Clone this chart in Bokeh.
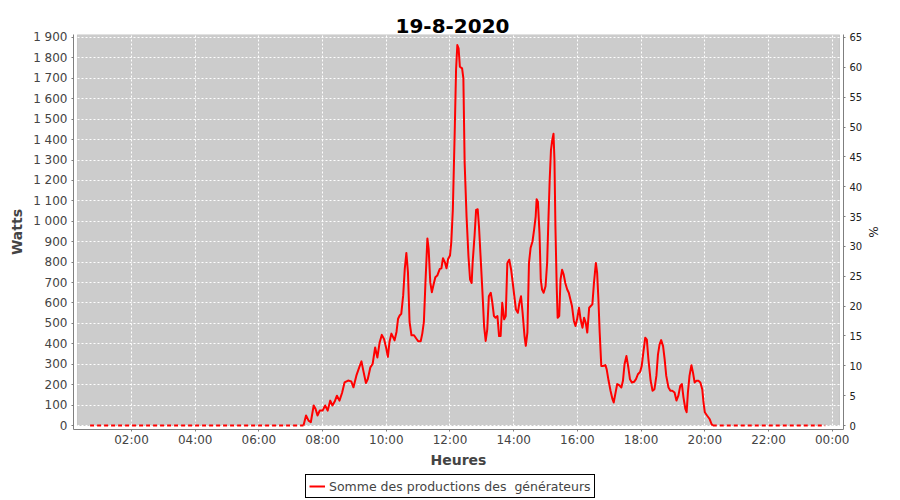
from bokeh.plotting import figure
from bokeh.layouts import column
from bokeh.models import (Range1d, LinearAxis, FixedTicker, Legend, LegendItem,
                          BoxAnnotation, ColumnDataSource)
from bokeh.embed import file_html
from bokeh.resources import INLINE

# ---------------- data ----------------
title_text = "19-8-2020"
x_label = "Heures"
y_label = "Watts"
y2_label = "%"
series_name = "Somme des productions des  générateurs"

x_tick_hours = [2, 4, 6, 8, 10, 12, 14, 16, 18, 20, 22, 24]
x_tick_labels = ["02:00", "04:00", "06:00", "08:00", "10:00", "12:00",
                 "14:00", "16:00", "18:00", "20:00", "22:00", "00:00"]
w_ticks = [0, 100, 200, 300, 400, 500, 600, 700, 800, 900, 1000, 1100,
           1200, 1300, 1400, 1500, 1600, 1700, 1800, 1900]
w_tick_labels = ["0", "100", "200", "300", "400", "500", "600", "700", "800",
                 "900", "1 000", "1 100", "1 200", "1 300", "1 400", "1 500",
                 "1 600", "1 700", "1 800", "1 900"]
pct_ticks = [0, 5, 10, 15, 20, 25, 30, 35, 40, 45, 50, 55, 60, 65]

# night (no production) segments, hours of day
night_hours = [0.70, 7.40]
night_watts = [0, 0]
evening_hours = [20.25, 23.78]
evening_watts = [0, 0]

# production during the day (hours of day, watts)
day_hours = [
    7.40, 7.48, 7.56, 7.63, 7.72, 7.78, 7.84, 7.91, 8.00, 8.08, 8.16, 8.24,
    8.31, 8.38, 8.45, 8.53, 8.61, 8.69, 8.80, 8.90, 8.97, 9.06, 9.15, 9.22,
    9.29, 9.36, 9.42, 9.50, 9.57, 9.65, 9.72, 9.79, 9.86, 9.93,
    10.00, 10.05, 10.10, 10.16, 10.21, 10.26, 10.32, 10.37, 10.42, 10.47,
    10.53, 10.58, 10.63, 10.68, 10.73, 10.79, 10.87, 10.94, 11.00, 11.08,
    11.13, 11.18, 11.23, 11.29, 11.33, 11.38, 11.43, 11.49, 11.54, 11.60,
    11.68, 11.73, 11.78, 11.84, 11.89, 11.94, 12.00, 12.04, 12.09, 12.15,
    12.19, 12.23, 12.27, 12.31, 12.38, 12.42, 12.46,
    12.52, 12.58, 12.63, 12.68, 12.71, 12.77, 12.82, 12.87, 12.91, 12.96,
    13.02, 13.07, 13.12, 13.17, 13.22, 13.28, 13.33, 13.38, 13.43, 13.49,
    13.54, 13.59, 13.64, 13.70, 13.75, 13.80, 13.86, 13.92, 13.97, 14.02,
    14.07, 14.13, 14.18, 14.23, 14.28, 14.34, 14.38, 14.43, 14.48, 14.53,
    14.59, 14.64, 14.69, 14.72,
    14.76, 14.81, 14.85, 14.89, 14.94, 15.00, 15.05, 15.09, 15.13, 15.17,
    15.21, 15.25, 15.28, 15.31, 15.35, 15.38, 15.43, 15.47, 15.52, 15.57,
    15.62, 15.68, 15.73, 15.78, 15.83, 15.89, 15.94, 15.99, 16.05, 16.10,
    16.16, 16.21, 16.26, 16.31, 16.37, 16.42, 16.47, 16.52, 16.58, 16.62,
    16.66, 16.70, 16.75, 16.81, 16.88,
    16.92, 16.98, 17.04, 17.10, 17.14, 17.20, 17.25, 17.31, 17.38, 17.43,
    17.48, 17.54, 17.60, 17.65, 17.71, 17.78, 17.84, 17.90, 17.97, 18.02,
    18.07, 18.13, 18.18, 18.23, 18.30, 18.36, 18.42, 18.48, 18.53, 18.58,
    18.63, 18.69, 18.74, 18.79, 18.86, 18.92, 18.98, 19.05, 19.11, 19.17,
    19.23, 19.28, 19.33, 19.39, 19.43, 19.47, 19.52, 19.58, 19.63, 19.68,
    19.74, 19.80, 19.86, 19.92, 19.96, 20.00, 20.07, 20.15, 20.21, 20.25,
]
day_watts = [
    0, 49, 24, 16, 98, 81, 49, 73, 73, 98, 73, 122,
    98, 117, 146, 122, 159, 211, 220, 216, 187, 244, 285, 314,
    260, 208, 228, 285, 301, 382, 333, 406, 444, 423,
    377, 336, 409, 450, 434, 417, 458, 523, 539, 547,
    637, 767, 845, 750, 507, 442, 442, 426, 413, 413,
    450, 507, 702, 916, 864, 702, 653, 694, 726, 734,
    767, 770, 819, 799, 770, 815, 832, 897, 1059, 1449,
    1741, 1863, 1847, 1757, 1749, 1700, 1286,
    1023, 828, 715, 698, 796, 926, 1056, 1059, 975, 828,
    650, 487, 414, 471, 633, 650, 601, 536, 528, 536,
    438, 438, 601, 520, 536, 796, 812, 763, 698, 633,
    568, 552, 601, 633, 552, 438, 390, 455, 796, 869,
    901, 958, 1023, 1108,
    1096, 942, 715, 666, 650, 682, 796, 1007, 1202, 1348,
    1397, 1429, 1299, 974, 682, 528, 536, 715, 763, 739,
    698, 666, 650, 617, 585, 512, 487, 520, 577, 520,
    479, 528, 504, 455, 577, 585, 593, 698, 796, 747,
    617, 455, 292, 292, 296,
    275, 219, 170, 130, 113, 162, 203, 198, 186, 219,
    300, 340, 284, 227, 211, 214, 227, 251, 263, 292,
    357, 430, 421, 324, 219, 170, 178, 243, 348, 397,
    418, 389, 324, 243, 186, 170, 170, 162, 122, 146,
    194, 203, 138, 81, 65, 162, 243, 295, 259, 211,
    219, 219, 211, 178, 113, 65, 49, 32, 8, 0,
]

# ---------------- main figure ----------------
FONT = "DejaVu Sans"
RED = "#FF0000"
W_MAX = 1914.6
W_MIN = -19.5
PCT_PER_W = 65.0 / 1900.0

p = figure(width=900, height=470, output_backend="svg", toolbar_location=None,
           x_range=Range1d(0.179, 24.355), y_range=Range1d(W_MIN, W_MAX),
           min_border_left=73, min_border_right=57, min_border_top=34,
           min_border_bottom=39)
p.outline_line_color = None
p.background_fill_color = "white"
p.border_fill_color = "white"

xax = p.below[0]
yax = p.left[0]

# grey plotting area
p.add_layout(BoxAnnotation(left=0.3045, right=24.229, bottom=0, top=W_MAX,
                           fill_color="#CCCCCC", fill_alpha=1.0,
                           line_color="#7F7F7F", line_width=1, level="image"))

# invisible spacer between the frame and the title (lifts the title)
spacer = LinearAxis(ticker=FixedTicker(ticks=[]), axis_line_color=None,
                    major_tick_line_color="white", minor_tick_line_color="white",
                    major_tick_in=0, major_tick_out=11, minor_tick_in=0,
                    minor_tick_out=11, major_label_standoff=0)
p.add_layout(spacer, "above")

# title
p.title.text = title_text
p.title.text_font = FONT
p.title.text_font_size = "20px"
p.title.text_font_style = "bold"
p.title.text_color = "black"
p.title.align = "left"
p.title.offset = 322
p.title.standoff = 0
p.title.vertical_align = "top"

# axes
xax.ticker = FixedTicker(ticks=x_tick_hours)
xax.major_label_overrides = dict(zip(x_tick_hours, x_tick_labels))
yax.ticker = FixedTicker(ticks=w_ticks)
yax.major_label_overrides = dict(zip(w_ticks, w_tick_labels))
xax.axis_label = x_label
yax.axis_label = y_label

ax2 = LinearAxis(y_range_name="pct", ticker=FixedTicker(ticks=pct_ticks),
                 axis_label=y2_label)
p.extra_y_ranges = {"pct": Range1d(W_MIN * PCT_PER_W, W_MAX * PCT_PER_W)}
p.add_layout(ax2, "right")

for ax in [xax, yax, ax2]:
    ax.axis_line_color = "#7F7F7F"
    ax.major_tick_line_color = "#7F7F7F"
    ax.major_tick_in = 0
    ax.major_tick_out = 2
    ax.minor_tick_line_color = None
    ax.major_label_text_font = FONT
    ax.major_label_text_font_size = "12px"
    ax.major_label_text_color = "#444444"
    ax.axis_label_text_font = FONT
    ax.axis_label_text_font_size = "14px"
    ax.axis_label_text_font_style = "bold"
    ax.axis_label_text_color = "#444444"
    ax.major_label_standoff = 4
    ax.axis_label_standoff = 5

xax.major_label_standoff = 1
xax.axis_label_standoff = 2
ax2.major_label_text_font_size = "10px"
ax2.major_label_text_color = "#222222"
ax2.axis_label_text_font_style = "normal"
ax2.axis_label_text_font_size = "12px"
ax2.axis_label_text_color = "#222222"
ax2.axis_label_standoff = 1

# grids
xgrid = p.xgrid[0]
ygrid = p.ygrid[0]
xgrid.ticker = FixedTicker(ticks=x_tick_hours)
ygrid.ticker = FixedTicker(ticks=w_ticks)
for g in [xgrid, ygrid]:
    g.grid_line_color = "white"
    g.grid_line_dash = "2 2"
    g.grid_line_width = 1

# series
src_day = ColumnDataSource(dict(x=day_hours, y=day_watts))
src_night = ColumnDataSource(dict(x=night_hours, y=night_watts))
src_eve = ColumnDataSource(dict(x=evening_hours, y=evening_watts))
p.line("x", "y", source=src_night, color=RED, line_width=2, line_dash="4 3")
p.line("x", "y", source=src_eve, color=RED, line_width=2, line_dash="4 3")
p.line("x", "y", source=src_day, color=RED, line_width=2, line_join="round")

# ---------------- legend strip (below the chart) ----------------
p2 = figure(width=900, height=30, output_backend="svg", toolbar_location=None,
            x_range=Range1d(0, 1), y_range=Range1d(0, 1), min_border=0,
            x_axis_location=None, y_axis_location=None)
p2.outline_line_color = None
p2.background_fill_color = "white"
p2.border_fill_color = "white"
p2.xgrid.visible = False
p2.ygrid.visible = False
# same series; it lies outside this strip's ranges, only its legend entry shows
r_leg = p2.line("x", "y", source=src_day, color=RED, line_width=2)

legend = Legend(items=[LegendItem(label=series_name, renderers=[r_leg])],
                orientation="horizontal", location=(232, 2))
legend.border_line_color = "black"
legend.border_line_width = 1
legend.border_line_alpha = 1.0
legend.background_fill_color = "white"
legend.background_fill_alpha = 1.0
legend.padding = 3
legend.margin = 0
legend.glyph_width = 16
legend.glyph_height = 16
legend.label_height = 16
legend.label_standoff = 4
legend.label_text_font = FONT
legend.label_text_font_size = "12.5px"
legend.label_text_color = "#444444"
p2.add_layout(legend, "center")

layout = column(p, p2, spacing=0)
open("out.html", "w").write(file_html(layout, INLINE))
